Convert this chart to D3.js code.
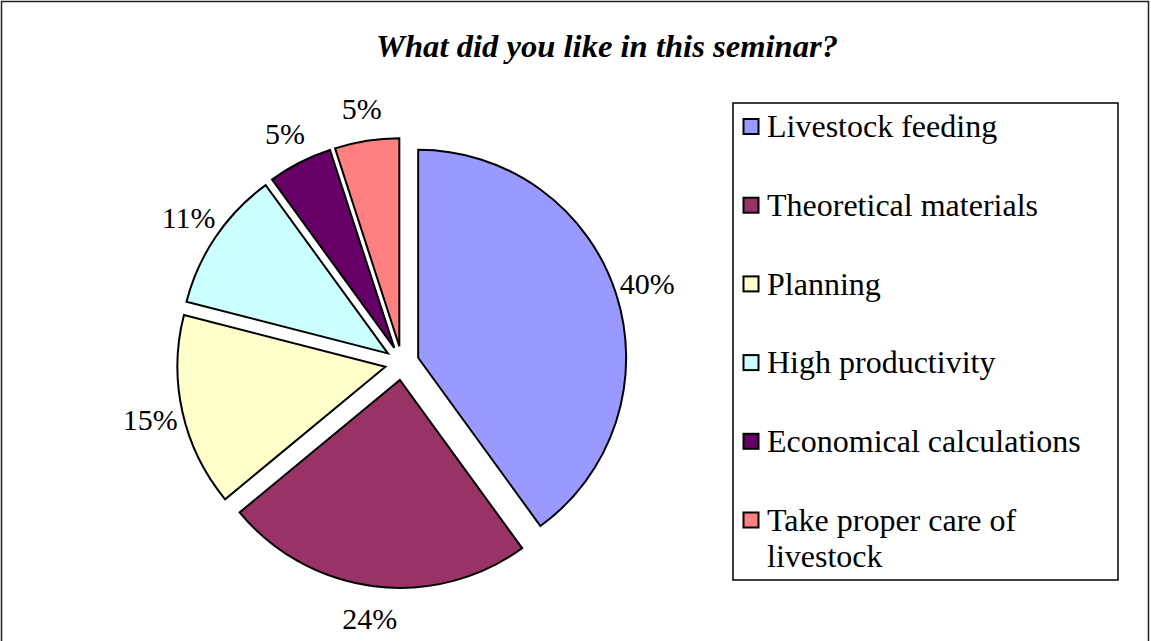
<!DOCTYPE html>
<html>
<head>
<meta charset="utf-8">
<script src="https://cdn.jsdelivr.net/npm/d3@7"></script>
<style>
  body { margin: 0; background: #fff; }
  svg { display: block; }
</style>
</head>
<body>
<svg width="1151" height="641"></svg>
<script>
var categories = ["Livestock feeding", "Theoretical materials", "Planning",
                  "High productivity", "Economical calculations", "Take proper care of livestock"];
var values = [40, 24, 15, 11, 5, 5];
var labels = ["40%", "24%", "15%", "11%", "5%", "5%"];
var colors = ["#9999FF", "#993366", "#FFFFCC", "#CCFFFF", "#660066", "#FF8080"];
var title = "What did you like in this seminar?";

var svg = d3.select("svg");
var font = "Liberation Serif, Times New Roman, serif";

// outer frame (bottom edge is cut off in the picture)
svg.append("rect")
    .attr("x", 1.5).attr("y", 1.5)
    .attr("width", 1147).attr("height", 700)
    .attr("fill", "none")
    .attr("stroke", "#222")
    .attr("stroke-width", 1.5);

svg.append("text")
    .attr("x", 376).attr("y", 57)
    .attr("textLength", 462)
    .attr("lengthAdjust", "spacingAndGlyphs")
    .attr("font-family", font)
    .attr("font-size", 32)
    .attr("font-weight", "bold")
    .attr("font-style", "italic")
    .text(title);

// exploded pie
var cx = 402, cy = 363, radius = 208, explode = 17;

var pie = d3.pie().sort(null).value(function(d) { return d; });
var arcs = pie(values);

var arc = d3.arc().innerRadius(0).outerRadius(radius);
var labelArc = d3.arc().innerRadius(258).outerRadius(258);

var g = svg.append("g").attr("transform", "translate(" + cx + "," + cy + ")");

g.selectAll(".slice")
    .data(arcs)
    .enter().append("path")
    .attr("class", "slice")
    .attr("d", arc)
    .attr("transform", function(d) {
        var a = (d.startAngle + d.endAngle) / 2;
        return "translate(" + (Math.sin(a) * explode) + "," + (-Math.cos(a) * explode) + ")";
    })
    .attr("fill", function(d, i) { return colors[i]; })
    .attr("stroke", "#000")
    .attr("stroke-width", 2)
    .attr("stroke-linejoin", "miter");

g.selectAll(".lbl")
    .data(arcs)
    .enter().append("text")
    .attr("class", "lbl")
    .attr("x", function(d) { return labelArc.centroid(d)[0]; })
    .attr("y", function(d) { return labelArc.centroid(d)[1]; })
    .attr("dy", "0.35em")
    .attr("text-anchor", "middle")
    .attr("font-family", font)
    .attr("font-size", 30)
    .text(function(d, i) { return labels[i]; });

// legend
var lx = 733, ly = 103, lw = 385, lh = 477;
svg.append("rect")
    .attr("x", lx).attr("y", ly)
    .attr("width", lw).attr("height", lh)
    .attr("fill", "#fff")
    .attr("stroke", "#000")
    .attr("stroke-width", 1.5);

var ly0 = 126, step = 78.7, maxW = 340;

var item = svg.selectAll(".leg")
    .data(categories)
    .enter().append("g")
    .attr("class", "leg")
    .attr("transform", function(d, i) { return "translate(" + lx + "," + (ly0 + i * step) + ")"; });

item.append("rect")
    .attr("x", 10.5).attr("y", -7)
    .attr("width", 15).attr("height", 15)
    .attr("fill", function(d, i) { return colors[i]; })
    .attr("stroke", "#000")
    .attr("stroke-width", 2);

item.append("text")
    .attr("x", 34).attr("y", 0)
    .attr("dy", "0.35em")
    .attr("font-family", font)
    .attr("font-size", 32)
    .each(function(d) {
        var t = d3.select(this);
        var words = d.split(" "), line = [];
        var ts = t.append("tspan").attr("x", 34);
        words.forEach(function(w) {
            line.push(w);
            ts.text(line.join(" "));
            if (ts.node().getComputedTextLength() > maxW && line.length > 1) {
                line.pop();
                ts.text(line.join(" "));
                line = [w];
                ts = t.append("tspan").attr("x", 34).attr("dy", "1.12em").text(w);
            }
        });
    });
</script>
</body>
</html>
